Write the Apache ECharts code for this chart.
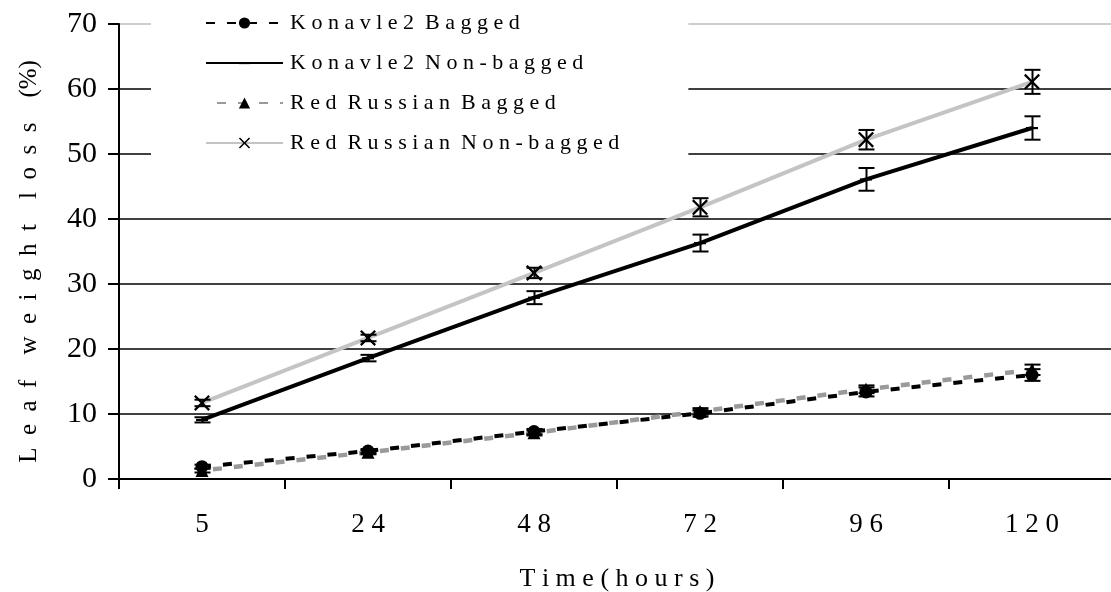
<!DOCTYPE html>
<html>
<head>
<meta charset="utf-8">
<script src="https://cdn.jsdelivr.net/npm/echarts@6/dist/echarts.min.js"></script>
<style>html,body{margin:0;padding:0;background:#fff;}#c{width:1111px;height:592px;}</style>
</head>
<body>
<div id="c"></div>
<script>
const categories = ['5', '24', '48', '72', '96', '120'];
const seriesNames = ['Konavle2 Bagged', 'Konavle2 Non-bagged', 'Red Russian Bagged', 'Red Russian Non-bagged'];
const konBagged = [1.9, 4.3, 7.3, 10.1, 13.4, 16.0];
const konNonBagged = [9.1, 18.6, 27.9, 36.3, 46.1, 54.0];
const redBagged = [1.3, 4.1, 7.1, 10.4, 13.8, 16.8];
const redNonBagged = [11.7, 21.7, 31.7, 41.8, 52.2, 61.1];
const konBaggedErr = [0.3, 0.3, 0.4, 0.5, 0.7, 0.9];
const konNonBaggedErr = [0.4, 0.5, 1.0, 1.3, 1.75, 1.8];
const redBaggedErr = [0.3, 0.3, 0.4, 0.5, 0.6, 0.8];
const redNonBaggedErr = [0.5, 0.5, 0.8, 1.4, 1.5, 1.85];
const yTicks = [0, 10, 20, 30, 40, 50, 60, 70];

const FONT = 'Liberation Serif';
const spaced = s => s.split(' ').map(w => w.split('').join(' ')).join('  ');
const wide = s => s.split(' ').map(w => w[0] === '(' ? w : w.split('').join('\u2002')).join('\u2002\u2002');

const chart = echarts.init(document.getElementById('c'), null, {renderer: 'canvas'});

function errData(vals, errs) {
  return vals.map((v, i) => [i, v - errs[i], v + errs[i]]);
}
function errRender(params, api) {
  const p = api.coord([api.value(0), api.value(1)]);
  const q = api.coord([api.value(0), api.value(2)]);
  const x = Math.round(p[0]) + 0.5;
  const w = 8;
  const st = {stroke: '#000', lineWidth: 2};
  return {
    type: 'group',
    children: [
      {type: 'line', shape: {x1: x, y1: p[1], x2: x, y2: q[1]}, style: st},
      {type: 'line', shape: {x1: x - w, y1: p[1], x2: x + w, y2: p[1]}, style: st},
      {type: 'line', shape: {x1: x - w, y1: q[1], x2: x + w, y2: q[1]}, style: st}
    ]
  };
}
function errSeries(vals, errs) {
  return {
    type: 'custom', renderItem: errRender, data: errData(vals, errs),
    encode: {x: 0, y: [1, 2]}, z: 5, silent: true, legendHoverLink: false
  };
}

const xSym = 'path://M0,1L1,0L5,4L9,0L10,1L6,5L10,9L9,10L5,6L1,10L0,9L4,5Z';
const dashSym = 'path://M0,0M12,12M0,5L12,5L12,7.2L0,7.2Z';

const option = {
  backgroundColor: '#fff',
  animation: false,
  grid: {left: 119, top: 24, width: 996, height: 455, outerBoundsMode: 'none', containLabel: false},
  legend: {
    orient: 'vertical',
    left: 151, top: 0,
    padding: [12, 69, 16, 54],
    backgroundColor: '#fff',
    itemWidth: 77, itemHeight: 14, itemGap: 18,
    data: seriesNames,
    formatter: n => spaced(n),
    textStyle: {fontFamily: FONT, fontSize: 22, color: '#000', padding: [0, 0, 0, 2]}
  },
  xAxis: {
    type: 'category',
    data: categories,
    boundaryGap: true,
    name: spaced('Time(hours)'),
    nameLocation: 'middle',
    nameGap: 87,
    nameTextStyle: {fontFamily: FONT, fontSize: 26, color: '#000'},
    axisLine: {lineStyle: {color: '#000', width: 2}},
    axisTick: {show: true, length: 10, lineStyle: {color: '#000', width: 2}},
    axisLabel: {fontFamily: FONT, fontSize: 27, color: '#000', margin: 32, formatter: v => v.split('').join(' ')},
    splitLine: {show: false}
  },
  yAxis: {
    type: 'value',
    min: yTicks[0], max: yTicks[yTicks.length - 1], interval: 10,
    name: wide('Leaf weight loss (%)'),
    nameLocation: 'middle',
    nameGap: 77,
    nameRotate: 90,
    nameTextStyle: {fontFamily: FONT, fontSize: 25, color: '#000', padding: [0, 20, 0, 0]},
    axisLine: {show: true, lineStyle: {color: '#000', width: 2}},
    axisTick: {show: true, length: 11, lineStyle: {color: '#000', width: 2}},
    axisLabel: {fontFamily: FONT, fontSize: 30, color: '#000', margin: 22},
    splitLine: {show: true, lineStyle: {color: ['#000', '#000', '#000', '#000', '#000', '#000', '#000', '#bdbdbd'], width: 1.5}}
  },
  series: [
    {
      name: seriesNames[3], type: 'line', data: redNonBagged, z: 3,
      symbol: xSym, symbolSize: 16,
      lineStyle: {color: '#c4c4c4', width: 4},
      itemStyle: {color: '#000'}
    },
    {
      name: seriesNames[1], type: 'line', data: konNonBagged, z: 3,
      symbol: dashSym, symbolSize: 12,
      lineStyle: {color: '#000', width: 4},
      itemStyle: {color: '#000'}
    },
    {
      name: seriesNames[2], type: 'line', data: redBagged, z: 3,
      symbol: 'triangle', symbolSize: 13,
      lineStyle: {color: '#9a9a9a', width: 4.5, type: [9, 12], dashOffset: 10},
      itemStyle: {color: '#000'}
    },
    {
      name: seriesNames[0], type: 'line', data: konBagged, z: 4,
      symbol: 'circle', symbolSize: 13,
      lineStyle: {color: '#000', width: 4, type: [9, 12]},
      itemStyle: {color: '#000'}
    },
    errSeries(redNonBagged, redNonBaggedErr),
    errSeries(konNonBagged, konNonBaggedErr),
    errSeries(redBagged, redBaggedErr),
    errSeries(konBagged, konBaggedErr)
  ]
};
chart.setOption(option);
</script>
</body>
</html>
